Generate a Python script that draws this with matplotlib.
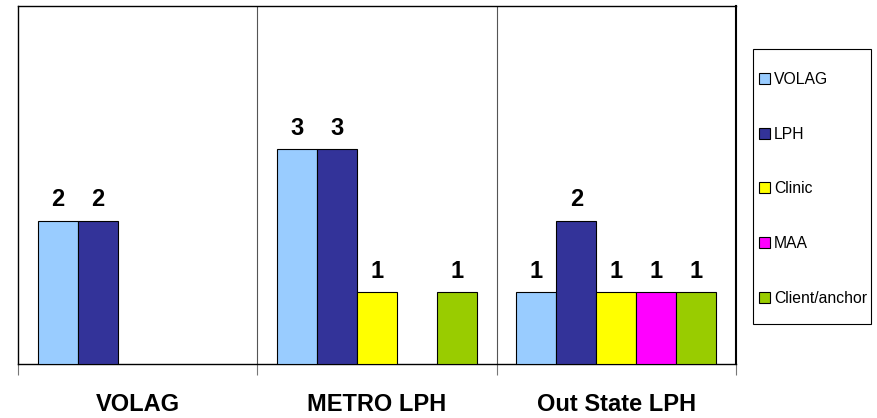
import matplotlib
matplotlib.use("Agg")
import matplotlib.pyplot as plt
import numpy as np
from matplotlib.patches import Patch, Rectangle

categories = ["VOLAG", "METRO LPH", "Out State LPH"]
series_names = ["VOLAG", "LPH", "Clinic", "MAA", "Client/anchor"]
volag = [2, 3, 1]
lph = [2, 3, 2]
clinic = [0, 1, 1]
maa = [0, 0, 1]
client_anchor = [0, 1, 1]
colors = ["#99CCFF", "#333399", "#FFFF00", "#FF00FF", "#99CC00"]

series = [volag, lph, clinic, maa, client_anchor]

plt.rcParams['font.family'] = ['Liberation Sans', 'DejaVu Sans']

fig = plt.figure(figsize=(8.78, 4.18), dpi=100)
ax = fig.add_axes([18/878, 1-364/418, (736-18)/878, (364-6)/418])

n = len(categories)
x = np.arange(n)
bw = 40/239
offsets = (np.arange(5) - 2) * bw
for s, vals, col, name in zip(range(5), series, colors, series_names):
    for i, v in enumerate(vals):
        if v > 0:
            ax.bar(x[i] + offsets[s], v, width=bw, color=col, edgecolor="black",
                   linewidth=0.8, zorder=3)
            ax.text(x[i] + offsets[s], v + 0.2, str(v), ha="center", va="baseline",
                    fontsize=17, fontweight="bold", zorder=4)

ax.set_xlim(-0.5, n - 0.5)
ax.set_ylim(0, 5)
ax.set_yticks([])
for b in [0.5, 1.5]:
    ax.axvline(b, color="#555555", linewidth=0.8, zorder=1)
ax.set_xticks([-0.5, 0.5, 1.5, 2.5])
ax.set_xticklabels([])
ax.tick_params(axis="x", length=8, width=0.8, color="#777777")
for i, c in enumerate(categories):
    ax.text(x[i], -0.565, c, ha="center", va="center", fontsize=17,
            fontweight="bold", clip_on=False)
for sp in ax.spines.values():
    sp.set_linewidth(1.0)
    sp.set_color("black")
ax.spines["right"].set_linewidth(1.5)

# legend frame
fig.patches.append(Rectangle((753/878, 1-324/418), (871-753)/878, (324-49)/418,
                             transform=fig.transFigure, facecolor="white",
                             edgecolor="black", linewidth=0.8, zorder=1))
handles = [Patch(facecolor=c, edgecolor="black", linewidth=0.8) for c in colors]
leg = fig.legend(handles, series_names, loc="upper left",
                 bbox_to_anchor=(759/878, 1-72/418), bbox_transform=fig.transFigure,
                 frameon=False, fontsize=11.3,
                 handlelength=0.7, handleheight=0.7, handletextpad=0.25,
                 labelspacing=2.53, borderpad=0, borderaxespad=0)

fig.savefig("out.png", dpi=100)
